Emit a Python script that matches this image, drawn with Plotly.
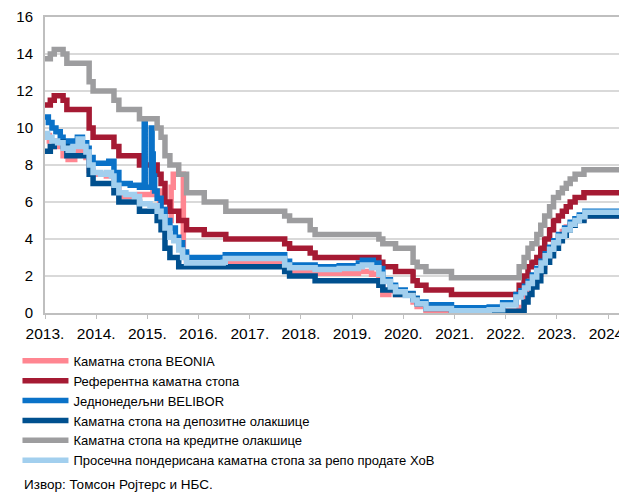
import plotly.graph_objects as go

# ---------------- data ----------------
year_ticks = ["2013-01-01", "2014-01-01", "2015-01-01", "2016-01-01", "2017-01-01", "2018-01-01",
              "2019-01-01", "2020-01-01", "2021-01-01", "2022-01-01", "2023-01-01", "2024-01-01"]
year_labels = ["2013.", "2014.", "2015.", "2016.", "2017.", "2018.",
               "2019.", "2020.", "2021.", "2022.", "2023.", "2024."]
x_end = "2024-05-08"

# Referentna kamatna stopa (key policy rate)
key_dates = ["2013-01-01", "2013-02-08", "2013-03-08", "2013-05-10", "2013-06-06", "2013-11-12",
             "2013-12-10", "2014-05-08", "2014-06-12", "2014-11-06", "2015-03-12", "2015-04-09",
             "2015-05-07", "2015-06-11", "2015-08-13", "2015-10-08", "2016-02-11", "2016-07-14",
             "2017-09-07", "2017-10-12", "2018-03-08", "2018-04-12", "2019-07-11", "2019-08-08",
             "2019-11-07", "2020-03-11", "2020-04-09", "2020-06-11", "2020-12-10", "2022-04-07",
             "2022-05-12", "2022-06-09", "2022-07-07", "2022-08-11", "2022-09-08", "2022-10-06",
             "2022-11-10", "2022-12-08", "2023-01-12", "2023-02-09", "2023-03-09", "2023-04-06",
             "2023-05-11", "2023-07-13", "2024-05-08"]
key_vals = [11.25, 11.5, 11.75, 11.5, 11.0, 10.0,
            9.5, 9.0, 8.5, 8.0, 7.5, 7.0,
            6.0, 5.5, 5.0, 4.5, 4.25, 4.0,
            3.75, 3.5, 3.25, 3.0, 2.75, 2.5,
            2.25, 1.75, 1.5, 1.25, 1.0, 1.5,
            2.0, 2.5, 2.75, 3.0, 3.5, 4.0,
            4.5, 5.0, 5.25, 5.5, 5.75, 6.0,
            6.25, 6.5, 6.5]

# Kamatna stopa na kreditne olakshice (lending facility)
lend_vals = [13.75, 14.0, 14.25, 14.0, 13.5, 12.5,
             12.0, 11.5, 11.0, 10.5, 10.0, 9.5,
             8.5, 8.0, 7.5, 6.5, 6.0, 5.5,
             5.25, 5.0, 4.5, 4.25, 4.0, 3.75,
             3.5, 2.75, 2.5, 2.25, 1.9, 2.5,
             3.0, 3.5, 3.75, 4.25, 4.75, 5.25,
             5.75, 6.25, 6.5, 6.75, 7.0, 7.25,
             7.5, 7.75, 7.75]

# Kamatna stopa na depozitne olakshice (deposit facility)
dep_vals = [8.75, 9.0, 9.25, 9.0, 8.5, 7.5,
            7.0, 6.5, 6.0, 5.5, 5.0, 4.5,
            3.5, 3.0, 2.5, 2.5, 2.5, 2.5,
            2.25, 2.0, 2.0, 1.75, 1.5, 1.25,
            1.0, 0.75, 0.5, 0.25, 0.1, 0.1,
            0.6, 1.0, 1.4, 1.75, 2.25, 2.75,
            3.1, 3.5, 3.9, 4.2, 4.5, 4.75,
            5.0, 5.25, 5.25]

# Prosečna ponderisana kamatna stopa za repo prodate HoV
repo_dates = ["2013-01-01", "2013-01-20", "2013-02-20", "2013-04-01", "2013-05-10", "2013-06-15",
              "2013-07-20", "2013-08-25", "2013-09-25", "2013-10-20", "2013-11-12", "2013-12-10",
              "2014-02-01", "2014-03-15", "2014-04-20", "2014-05-08", "2014-06-12", "2014-08-01",
              "2014-10-01", "2014-11-06", "2015-01-20", "2015-03-12", "2015-04-09", "2015-05-07",
              "2015-06-11", "2015-07-09", "2015-08-13", "2015-09-10", "2015-10-08", "2016-06-25",
              "2016-07-10", "2017-09-07", "2017-10-12", "2018-04-12", "2018-10-01", "2019-02-15",
              "2019-03-15", "2019-05-20", "2019-07-11", "2019-08-08", "2019-10-01", "2019-11-07",
              "2020-01-15", "2020-03-11", "2020-04-09", "2020-06-11", "2020-12-10", "2021-09-05",
              "2021-12-10", "2022-03-15", "2022-04-20", "2022-05-15", "2022-06-10", "2022-07-10",
              "2022-08-10", "2022-09-10", "2022-10-10", "2022-11-10", "2022-12-10", "2023-01-12",
              "2023-02-25", "2023-04-06", "2023-05-10", "2023-06-10", "2023-07-20", "2024-05-08"]
repo_vals = [9.7, 9.5, 9.3, 9.2, 8.9, 8.8,
             9.0, 9.4, 9.0, 8.7, 8.0, 7.6,
             7.5, 7.6, 7.4, 6.9, 6.5, 6.4,
             6.3, 5.9, 5.8, 5.5, 5.2, 4.6,
             4.1, 3.9, 3.4, 3.0, 2.7, 2.75,
             2.95, 2.6, 2.45, 2.35, 2.4, 2.5,
             2.6, 2.45, 2.1, 1.7, 1.4, 1.15,
             0.95, 0.7, 0.5, 0.25, 0.12, 0.18,
             0.43, 0.87, 1.1, 1.35, 1.6, 1.95,
             2.3, 2.7, 3.1, 3.45, 3.8, 4.15,
             4.5, 4.8, 5.0, 5.2, 5.45, 5.55]

# Jednonedeljni BELIBOR
bel_dates = ["2013-01-01", "2013-01-25", "2013-02-20", "2013-03-20", "2013-04-20", "2013-05-10",
             "2013-06-15", "2013-07-20", "2013-08-20", "2013-09-25", "2013-10-25", "2013-11-12",
             "2013-12-10", "2014-02-15", "2014-04-01", "2014-05-08", "2014-06-12", "2014-09-01",
             "2014-11-06", "2014-12-10", "2014-12-17", "2015-01-29", "2015-02-04", "2015-02-12",
             "2015-02-22", "2015-03-12", "2015-04-09", "2015-05-07", "2015-06-11", "2015-07-20",
             "2015-08-13", "2015-09-10", "2015-10-08", "2016-07-10", "2017-09-07", "2017-10-12",
             "2018-04-12", "2018-10-01", "2019-02-15", "2019-03-15", "2019-06-01", "2019-07-11",
             "2019-08-08", "2019-10-01", "2019-11-07", "2020-01-15", "2020-03-11", "2020-04-09",
             "2020-06-11", "2020-12-10", "2021-09-05", "2021-12-10", "2022-03-15", "2022-04-20",
             "2022-05-15", "2022-06-10", "2022-07-10", "2022-08-10", "2022-09-10", "2022-10-10",
             "2022-11-10", "2022-12-10", "2023-01-12", "2023-02-25", "2023-04-06", "2023-05-10",
             "2023-06-10", "2023-07-20", "2024-05-08"]
bel_vals = [10.6, 10.3, 10.0, 9.8, 9.5, 9.3,
            9.2, 9.3, 9.5, 9.2, 8.9, 8.4,
            8.1, 8.1, 8.2, 7.6, 7.0, 6.9,
            6.8, 10.3, 6.8, 10.0, 8.6, 7.4,
            6.6, 6.2, 5.6, 5.0, 4.6, 4.1,
            3.8, 3.3, 3.0, 3.15, 2.8, 2.6,
            2.5, 2.55, 2.7, 2.85, 2.7, 2.4,
            1.8, 1.5, 1.25, 1.05, 0.8, 0.6,
            0.45, 0.28, 0.33, 0.55, 1.0, 1.2,
            1.45, 1.7, 2.05, 2.4, 2.8, 3.2,
            3.55, 3.9, 4.25, 4.6, 4.9, 5.1,
            5.3, 5.5, 5.6]

# Kamatna stopa BEONIA
beo_dates = ["2013-01-01", "2013-02-01", "2013-03-15", "2013-05-10", "2013-06-15", "2013-08-01",
             "2013-08-25", "2013-09-25", "2013-10-20", "2013-11-12", "2013-12-10", "2014-03-15",
             "2014-05-08", "2014-06-12", "2014-11-06", "2015-02-10", "2015-04-01", "2015-05-07",
             "2015-06-20", "2015-07-05", "2015-09-15", "2015-10-08", "2016-07-10", "2017-09-07",
             "2017-10-12", "2018-04-12", "2019-02-15", "2019-05-20", "2019-07-11", "2019-08-08",
             "2019-09-20", "2019-11-07", "2020-03-11", "2020-04-09", "2020-06-11", "2020-12-10",
             "2022-04-07", "2022-05-12", "2022-06-09", "2022-07-07", "2022-08-11", "2022-09-08",
             "2022-10-06", "2022-11-10", "2022-12-08", "2023-01-12", "2023-02-09", "2023-03-09",
             "2023-04-06", "2023-05-11", "2023-07-13", "2024-05-08"]
beo_vals = [9.6, 9.3, 9.0, 8.5, 8.3, 8.6,
            9.2, 8.7, 8.4, 7.7, 7.5, 7.4,
            6.8, 6.3, 6.4, 6.6, 5.6, 5.0,
            6.8, 7.5, 3.2, 2.6, 2.7, 2.4,
            2.2, 2.15, 2.25, 2.1, 1.7, 1.0,
            1.2, 1.0, 0.6, 0.35, 0.15, 0.1,
            0.3, 0.9, 1.4, 1.8, 2.1, 2.5,
            3.0, 3.4, 3.8, 4.1, 4.4, 4.65,
            4.85, 5.05, 5.25, 5.3]

names = ["Каматна стопа BEONIA", "Референтна каматна стопа", "Једнонедељни BELIBOR",
         "Каматна стопа на депозитне олакшице", "Каматна стопа на кредитне олакшице",
         "Просечна пондерисана каматна стопа за репо продате ХоВ"]
colors = ["#FF8691", "#A51A33", "#0A72C8", "#00508F", "#9D9D9F", "#A2CFEE"]

series = [(beo_dates, beo_vals), (key_dates, key_vals), (bel_dates, bel_vals),
          (key_dates, dep_vals), (key_dates, lend_vals), (repo_dates, repo_vals)]

FONT = "Liberation Sans, Arial, sans-serif"

fig = go.Figure()
for (xs, ys), nm, col in zip(series, names, colors):
    fig.add_trace(go.Scatter(x=xs, y=ys, name=nm, mode="lines",
                             line=dict(color=col, width=5.5, shape="hv")))

# the page body adds an 8px offset, so the figure is 8px smaller on each axis
fig.update_layout(
    width=619, height=485,
    margin=dict(l=37, r=1, t=9, b=180, autoexpand=False),
    paper_bgcolor="white", plot_bgcolor="white",
    font=dict(family=FONT, size=14, color="#000000"),
    showlegend=True,
    legend=dict(orientation="v", xref="container", yref="container",
                x=0.0153, y=0.3035, xanchor="left", yanchor="top",
                font=dict(family=FONT, size=13, color="#000000"),
                itemwidth=46, tracegroupgap=0, bgcolor="rgba(0,0,0,0)",
                traceorder="normal"),
    xaxis=dict(type="date", range=["2013-01-01", x_end],
               tickvals=year_ticks, ticktext=year_labels, tickangle=0,
               tickfont=dict(size=15.5), ticks="outside", ticklen=4, tickcolor="#BFBFBF",
               showgrid=False, showline=True, linecolor="#BFBFBF", linewidth=2,
               mirror=True, zeroline=False, ticklabelstandoff=1,
               ticklabeloverflow="allow"),
    yaxis=dict(range=[0, 16], dtick=2, tick0=0, tickfont=dict(size=15),
               showgrid=True, gridcolor="#D9D9D9", gridwidth=1.5,
               showline=True, linecolor="#BFBFBF", linewidth=2, mirror=True,
               zeroline=False, ticks="", ticklabelstandoff=7),
    annotations=[dict(text="Извор: Томсон Ројтерс и НБС.", xref="paper", yref="paper",
                      x=-0.0396, y=-0.581, xanchor="left", yanchor="middle",
                      showarrow=False,
                      font=dict(family=FONT, size=13.5, color="#000000"))],
)

fig.write_html("out.html")
